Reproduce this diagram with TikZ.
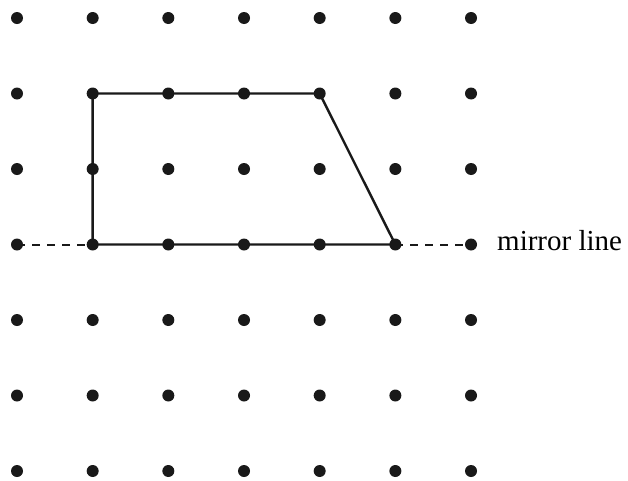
\documentclass[tikz,border=0pt]{standalone}
\usepackage{fontspec}
\setmainfont{Liberation Serif}
\begin{document}
\begin{tikzpicture}[x=1pt,y=-1pt,
  dot/.style={circle,fill=black!90,inner sep=0pt,minimum size=12pt},
  edge/.style={line width=2.4pt,black!90},
  mirror/.style={line width=2pt,black!90,dash pattern=on 8pt off 7pt}]
\useasboundingbox (0,0) rectangle (628,480);
\foreach \i in {0,...,6}{
  \foreach \j in {0,...,6}{
    \node[dot] (d\i\j) at ({17+75.67*\i},{18+75.5*\j}) {};
  }
}
\draw[mirror] (d03.center) -- (d13.center);
\draw[mirror] (d53.center) -- (d63.center);
\draw[edge,line join=round] (d11.center) -- (d41.center) -- (d53.center) -- (d13.center) -- cycle;
\node[anchor=base west,inner sep=0pt,font=\fontsize{29}{33}\selectfont] (lbl) at (497,250) {mirror line};
\end{tikzpicture}
\end{document}
